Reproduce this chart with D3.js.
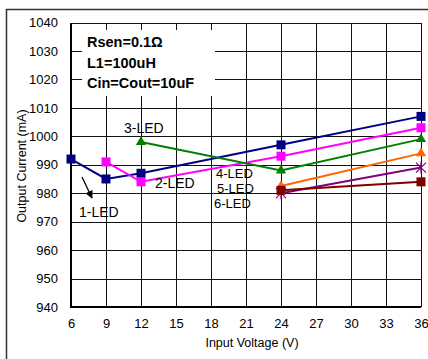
<!DOCTYPE html>
<html><head><meta charset="utf-8">
<script src="https://cdn.jsdelivr.net/npm/d3@7/dist/d3.min.js"></script>
<style>body{margin:0;background:#fff}svg{display:block;font-family:"Liberation Sans",Arial,sans-serif}</style>
</head><body>
<script>
const xTicks = [6, 9, 12, 15, 18, 21, 24, 27, 30, 33, 36];
const yTicks = [940, 950, 960, 970, 980, 990, 1000, 1010, 1020, 1030, 1040];
const led1V = [6, 9, 12, 24, 36];
const led1I = [992, 985, 987, 997, 1007];
const led2V = [9, 12, 24, 36];
const led2I = [991, 984, 993, 1003];
const led3V = [12, 24, 36];
const led3I = [998, 988, 999];
const led4V = [24, 36];
const led4I = [982.5, 994];
const led5V = [24, 36];
const led5I = [980, 989];
const led6V = [24, 36];
const led6I = [981, 984];
const noteLines = ["Rsen=0.1\u03A9", "L1=100uH", "Cin=Cout=10uF"];

const W = 428, H = 359;
const svg = d3.select("body").append("svg").attr("width", W).attr("height", H);
const x = d3.scaleLinear().domain([6, 36]).range([71, 421]);
const y = d3.scaleLinear().domain([940, 1040]).range([307, 22.5]);

// outer frame
svg.append("path").attr("d", `M6.5,${H} V9.5 H${W}`).attr("fill", "none").attr("stroke", "#333").attr("stroke-width", 1.5);

// grid
const g = svg.append("g").attr("shape-rendering", "crispEdges");
g.selectAll(".vg").data(xTicks).join("line")
  .attr("x1", d => Math.round(x(d)) + 0.5).attr("x2", d => Math.round(x(d)) + 0.5)
  .attr("y1", y(1040)).attr("y2", y(940)).attr("stroke", "#111").attr("stroke-width", 1);
g.selectAll(".hg").data(yTicks).join("line")
  .attr("y1", d => Math.round(y(d)) + 0.5).attr("y2", d => Math.round(y(d)) + 0.5)
  .attr("x1", x(6)).attr("x2", x(36)).attr("stroke", "#111").attr("stroke-width", 1);
g.append("line").attr("x1", x(6)).attr("x2", x(6)).attr("y1", y(1040)).attr("y2", y(940) + 1).attr("stroke", "#000").attr("stroke-width", 2);
g.append("line").attr("x1", x(6)).attr("x2", x(36)).attr("y1", y(940)).attr("y2", y(940)).attr("stroke", "#000").attr("stroke-width", 2);

// tick labels via axes
const xa = svg.append("g").attr("transform", `translate(0,${y(940)})`)
  .call(d3.axisBottom(x).tickValues(xTicks).tickFormat(d3.format("d")).tickSize(0).tickPadding(12));
const ya = svg.append("g").attr("transform", `translate(${x(6)},0)`)
  .call(d3.axisLeft(y).tickValues(yTicks).tickFormat(d3.format("d")).tickSize(0).tickPadding(13));
[xa, ya].forEach(a => {
  a.select(".domain").remove();
  a.selectAll("text").attr("font-size", 13).attr("fill", "#000").attr("font-family", '"Liberation Sans",Arial,sans-serif');
});

// axis titles
svg.append("text").attr("x", 252).attr("y", 347).attr("text-anchor", "middle").attr("font-size", 12.5).text("Input Voltage (V)");
svg.append("text").attr("transform", "translate(26,166) rotate(-90)").attr("text-anchor", "middle").attr("font-size", 12.5).text("Output Current (mA)");

// note box
svg.append("rect").attr("x", 82).attr("y", 30).attr("width", 133).attr("height", 66).attr("fill", "#fff");
svg.selectAll(".note").data(noteLines).join("text")
  .attr("x", 87).attr("y", (d, i) => 47 + i * 20.5)
  .attr("font-size", 14.5).attr("font-weight", "bold").text(d => d);

// series
const series = [
  {v: led1V, i: led1I, c: "#000080", m: "square"},
  {v: led2V, i: led2I, c: "#ff00ff", m: "square"},
  {v: led3V, i: led3I, c: "#008000", m: "triangle"},
  {v: led4V, i: led4I, c: "#ff6600", m: "triangle"},
  {v: led5V, i: led5I, c: "#800080", m: "x"},
  {v: led6V, i: led6I, c: "#800000", m: "square"}
];
const line = d3.line().x(d => x(d[0])).y(d => y(d[1]));
series.forEach(s => {
  const pts = s.v.map((v, k) => [v, s.i[k]]);
  svg.append("path").attr("d", line(pts)).attr("fill", "none").attr("stroke", s.c).attr("stroke-width", 2);
  pts.forEach(p => {
    const cx = x(p[0]), cy = y(p[1]);
    if (s.m === "square") {
      svg.append("rect").attr("x", cx - 4.5).attr("y", cy - 4.5).attr("width", 9).attr("height", 9).attr("fill", s.c);
    } else if (s.m === "triangle") {
      svg.append("path").attr("d", d3.symbol(d3.symbolTriangle, 45)()).attr("transform", `translate(${cx},${cy})`).attr("fill", s.c);
    } else {
      svg.append("path").attr("d", `M${cx-5},${cy-5}L${cx+5},${cy+5}M${cx-5},${cy+5}L${cx+5},${cy-5}M${cx},${cy-6}L${cx},${cy+6}`)
        .attr("stroke", s.c).attr("stroke-width", 1.2).attr("fill", "none");
    }
  });
});

// labels
const labels = [
  {t: "1-LED", x: 79, y: 212}, {t: "2-LED", x: 155, y: 183}, {t: "3-LED", x: 124, y: 128},
  {t: "4-LED", x: 216, y: 173.5}, {t: "5-LED", x: 217, y: 188.5}, {t: "6-LED", x: 214, y: 203.5}
];
svg.selectAll(".lbl").data(labels).join("text")
  .attr("x", d => d.x).attr("y", d => d.y).attr("dy", "0.35em")
  .attr("font-size", d => d.t === "1-LED" || d.t === "2-LED" || d.t === "3-LED" ? 14 : 13).text(d => d.t);

// arrow
svg.append("defs").append("marker").attr("id", "ah").attr("viewBox", "0 0 10 10").attr("refX", 9).attr("refY", 5)
  .attr("markerWidth", 6).attr("markerHeight", 6).attr("orient", "auto")
  .append("path").attr("d", "M0,0L10,5L0,10z").attr("fill", "#000");
svg.append("line").attr("x1", 82).attr("y1", 177).attr("x2", 92).attr("y2", 198)
  .attr("stroke", "#000").attr("stroke-width", 1.3).attr("marker-end", "url(#ah)");
</script>
</body></html>
